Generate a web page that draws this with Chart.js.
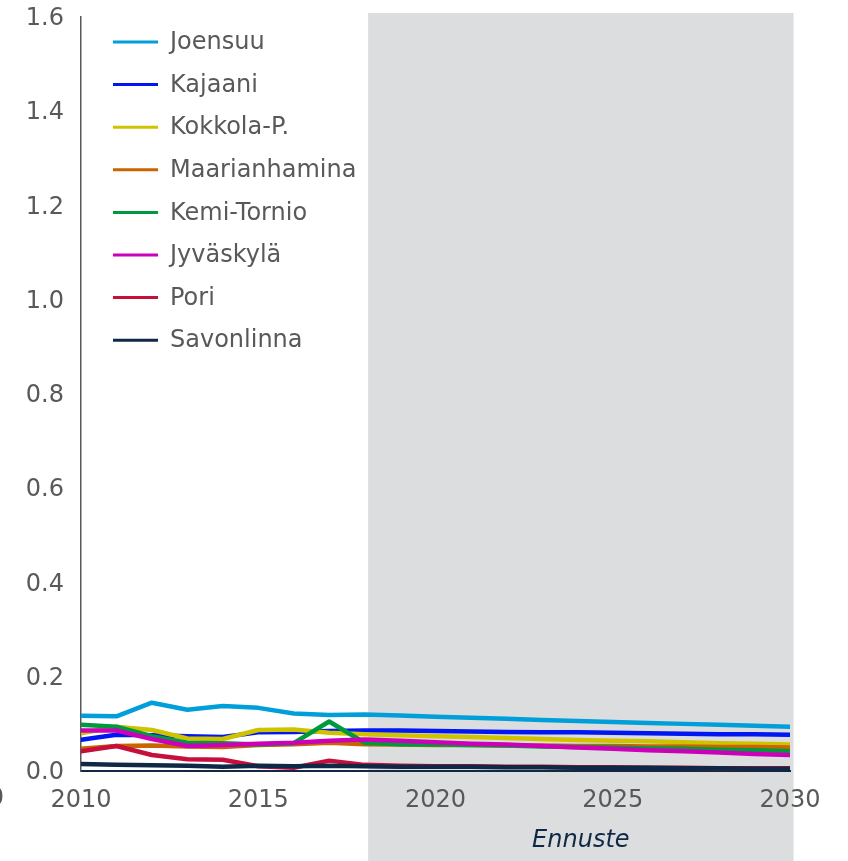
<!DOCTYPE html>
<html>
<head>
<meta charset="utf-8">
<script src="https://cdn.jsdelivr.net/npm/chart.js@4/dist/chart.umd.min.js"></script>
<style>
  html, body { margin: 0; padding: 0; background: #ffffff; }
  #wrap { width: 848px; height: 861px; position: relative; }
</style>
</head>
<body>
<div id="wrap"><canvas id="c" width="848" height="861"></canvas></div>
<script>
// ---- Data ----
const years = [2010,2011,2012,2013,2014,2015,2016,2017,2018,2019,2020,2021,2022,2023,2024,2025,2026,2027,2028,2029,2030];
const seriesNames = ['Joensuu','Kajaani','Kokkola-P.','Maarianhamina','Kemi-Tornio','Jyväskylä','Pori','Savonlinna'];
const joensuu      = [0.117,0.116,0.145,0.130,0.138,0.134,0.122,0.119,0.120,0.118,0.115,0.113,0.111,0.108,0.106,0.104,0.102,0.100,0.098,0.096,0.094];
const kajaani      = [0.066,0.077,0.076,0.074,0.072,0.082,0.083,0.085,0.086,0.086,0.085,0.084,0.083,0.082,0.082,0.081,0.080,0.079,0.078,0.078,0.077];
const kokkola      = [0.080,0.094,0.087,0.069,0.068,0.087,0.088,0.081,0.078,0.076,0.074,0.072,0.070,0.068,0.066,0.064,0.063,0.061,0.059,0.058,0.056];
const maarianhamina= [0.047,0.053,0.054,0.052,0.051,0.055,0.057,0.060,0.057,0.056,0.055,0.055,0.054,0.054,0.053,0.053,0.052,0.052,0.051,0.051,0.050];
const kemiTornio   = [0.098,0.094,0.074,0.060,0.059,0.056,0.059,0.105,0.060,0.057,0.056,0.055,0.054,0.052,0.051,0.050,0.048,0.047,0.045,0.044,0.042];
const jyvaskyla    = [0.086,0.086,0.068,0.053,0.055,0.058,0.060,0.064,0.067,0.064,0.061,0.058,0.056,0.053,0.050,0.047,0.044,0.042,0.039,0.036,0.034];
const pori         = [0.042,0.053,0.034,0.025,0.024,0.010,0.007,0.022,0.013,0.011,0.010,0.010,0.009,0.009,0.008,0.008,0.007,0.007,0.006,0.006,0.006];
const savonlinna   = [0.015,0.013,0.012,0.011,0.009,0.011,0.010,0.011,0.010,0.009,0.009,0.009,0.008,0.008,0.007,0.007,0.007,0.006,0.006,0.005,0.005];
const seriesValues = [joensuu,kajaani,kokkola,maarianhamina,kemiTornio,jyvaskyla,pori,savonlinna];
const seriesColors = ['#009fda','#0016f2','#cfc300','#c96400','#009a3e','#cc00b8','#c70f3c','#0f2846'];
const xTickLabels = ['2010','2015','2020','2025','2030'];
const yTickLabels = ['0.0','0.2','0.4','0.6','0.8','1.0','1.2','1.4','1.6'];
const forecastStart = 2018.1;
const forecastEnd = 2030.1;
const forecastLabel = 'Ennuste';

const FONT = "'DejaVu Sans', Verdana, sans-serif";
const TEXT = '#595959';

const datasets = seriesNames.map((name, i) => ({
  label: name,
  data: years.map((y, k) => ({x: y, y: seriesValues[i][k]})),
  borderColor: seriesColors[i],
  backgroundColor: seriesColors[i],
  borderWidth: 4.5,
  pointRadius: 0,
  pointHoverRadius: 0,
  tension: 0,
  fill: false,
  borderCapStyle: 'round',
  borderJoinStyle: 'round',
  order: seriesNames.length - i
}));

const bgPlugin = {
  id: 'bgShade',
  beforeDraw(chart) {
    const {ctx, scales} = chart;
    ctx.save();
    ctx.fillStyle = '#ffffff';
    ctx.fillRect(0, 0, chart.width, chart.height);
    const x0 = scales.x.getPixelForValue(forecastStart);
    const x1 = scales.x.getPixelForValue(forecastEnd);
    ctx.fillStyle = '#dcdddf';
    ctx.fillRect(x0, 13, x1 - x0, chart.height - 13);
    ctx.restore();
  },
  afterDraw(chart) {
    const {ctx, scales} = chart;
    ctx.save();
    const x0 = scales.x.getPixelForValue(forecastStart);
    const x1 = scales.x.getPixelForValue(forecastEnd);
    ctx.font = 'italic 24px ' + FONT;
    ctx.fillStyle = '#0f2846';
    ctx.textAlign = 'center';
    ctx.textBaseline = 'middle';
    ctx.fillText(forecastLabel, (x0 + x1) / 2, 841);
    ctx.font = '24px ' + FONT;
    ctx.fillStyle = TEXT;
    ctx.textAlign = 'right';
    ctx.fillText('0', 4, 799);
    const lx = 113, lw = 45, tx = 170;
    let y = 42;
    const step = 42.6;
    chart.data.datasets.forEach((ds) => {
      ctx.strokeStyle = ds.borderColor;
      ctx.lineWidth = 3;
      ctx.lineCap = 'butt';
      ctx.beginPath();
      ctx.moveTo(lx, y);
      ctx.lineTo(lx + lw, y);
      ctx.stroke();
      ctx.fillStyle = TEXT;
      ctx.textAlign = 'left';
      ctx.textBaseline = 'middle';
      ctx.fillText(ds.label, tx, y + 1);
      y += step;
    });
    ctx.restore();
  }
};

new Chart(document.getElementById('c'), {
  type: 'line',
  data: { datasets },
  plugins: [bgPlugin],
  options: {
    responsive: false,
    animation: false,
    events: [],
    layout: { padding: { left: 0, right: 58, top: 17, bottom: 0 } },
    plugins: { legend: { display: false }, tooltip: { enabled: false } },
    scales: {
      x: {
        type: 'linear',
        min: 2010, max: 2030,
        afterFit(s) { s.height = 90; s.paddingLeft = 0; s.paddingRight = 0; },
        afterBuildTicks(s) { s.ticks = xTickLabels.map(t => ({value: Number(t)})); },
        ticks: {
          callback: (v) => xTickLabels.find(t => Number(t) === v) || '',
          font: { family: FONT, size: 24 },
          color: TEXT,
          padding: 15,
          maxRotation: 0,
          autoSkip: false
        },
        grid: { display: false, drawTicks: false },
        border: { display: true, color: '#0f2846', width: 2 }
      },
      y: {
        min: 0, max: 1.6,
        afterFit(s) { s.width = 81; s.paddingTop = 0; s.paddingBottom = 0; },
        afterBuildTicks(s) { s.ticks = yTickLabels.map(t => ({value: Number(t)})); },
        ticks: {
          callback: (v) => yTickLabels.find(t => Math.abs(Number(t) - v) < 1e-9) || '',
          font: { family: FONT, size: 24 },
          color: TEXT,
          padding: 17,
          labelOffset: 2,
          autoSkip: false
        },
        grid: { display: false, drawTicks: false },
        border: { display: true, color: '#595959', width: 1.5 }
      }
    }
  }
});
</script>
</body>
</html>
